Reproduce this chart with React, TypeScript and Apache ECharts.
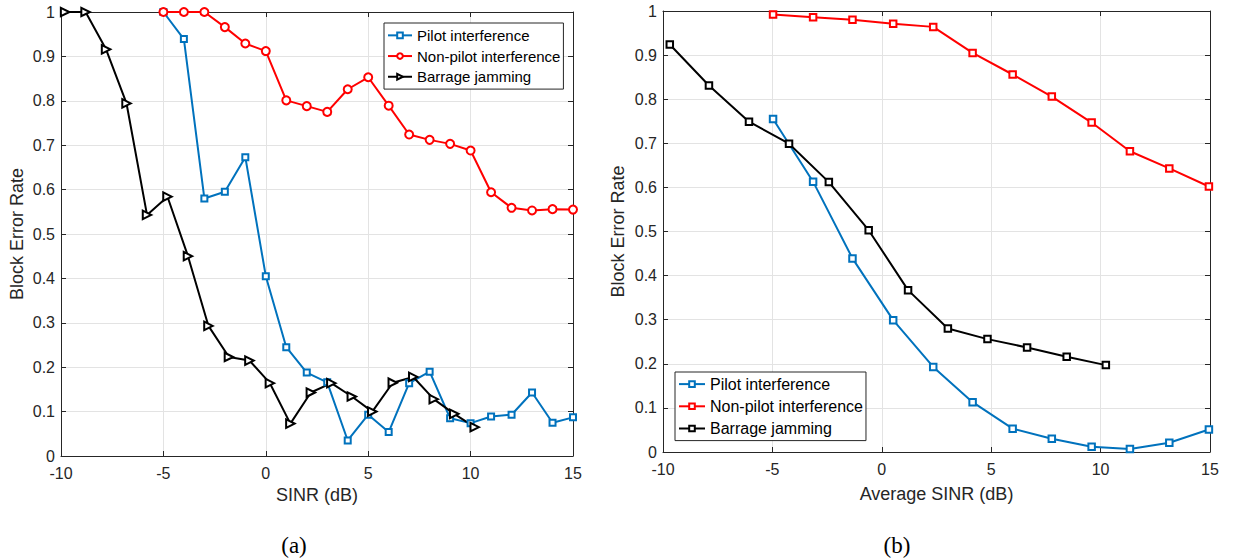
import React, { useEffect, useRef } from "react";
import * as echarts from "echarts";

// ---- Panel (a) data ----
const sinrA = [-5, -4, -3, -2, -1, 0, 1, 2, 3, 4, 5, 6, 7, 8, 9, 10, 11, 12, 13, 14, 15];
const pilotA = [1.0, 0.939, 0.58, 0.595, 0.673, 0.405, 0.245, 0.188, 0.166, 0.035, 0.093, 0.054, 0.164, 0.19, 0.085, 0.074, 0.089, 0.093, 0.143, 0.075, 0.087];
const nonPilotA = [1, 1, 1, 0.966, 0.929, 0.912, 0.801, 0.788, 0.775, 0.826, 0.853, 0.789, 0.724, 0.712, 0.703, 0.688, 0.594, 0.559, 0.553, 0.556, 0.555];
const barrageXA = [-9.8, -8.8, -7.8, -6.8, -5.8, -4.8, -3.8, -2.8, -1.8, -0.8, 0.2, 1.2, 2.2, 3.2, 4.2, 5.2, 6.2, 7.2, 8.2, 9.2, 10.2];
const barrageA = [1, 1, 0.916, 0.794, 0.543, 0.584, 0.45, 0.293, 0.223, 0.215, 0.164, 0.073, 0.143, 0.164, 0.134, 0.1, 0.165, 0.178, 0.128, 0.095, 0.065];

// ---- Panel (b) data ----
const sinrB = [-4.97, -3.14, -1.34, 0.52, 2.35, 4.15, 5.98, 7.77, 9.59, 11.34, 13.14, 14.95];
const pilotB = [0.755, 0.613, 0.439, 0.299, 0.193, 0.113, 0.053, 0.03, 0.012, 0.007, 0.021, 0.051];
const nonPilotB = [0.992, 0.986, 0.98, 0.971, 0.964, 0.905, 0.856, 0.806, 0.747, 0.682, 0.643, 0.602];
const barrageXB = [-9.69, -7.9, -6.07, -4.24, -2.42, -0.6, 1.2, 3.02, 4.83, 6.64, 8.45, 10.24];
const barrageB = [0.924, 0.831, 0.749, 0.699, 0.612, 0.503, 0.367, 0.28, 0.256, 0.237, 0.216, 0.197];

const seriesNames = ["Pilot interference", "Non-pilot interference", "Barrage jamming"];
const xTitleA = "SINR (dB)";
const xTitleB = "Average SINR (dB)";
const yTitle = "Block Error Rate";

const BLUE = "#0072BD";
const RED = "#FF0000";
const BLACK = "#000000";
const AXIS = "#262626";
const FONT = "Liberation Sans, Arial, Helvetica, sans-serif";

const zip = (xs: number[], ys: number[]) => xs.map((x, i) => [x, ys[i]]);

function mainX(grid: number, name: string, gap: number) {
  return {
    type: "value", gridIndex: grid, min: -10, max: 15, interval: 5,
    position: "bottom",
    name, nameLocation: "middle", nameGap: gap,
    nameTextStyle: { fontFamily: FONT, fontSize: 18, color: AXIS },
    axisLine: { show: true, onZero: false, lineStyle: { color: AXIS, width: 1 } },
    axisTick: { show: true, inside: true, length: 5, lineStyle: { color: AXIS } },
    axisLabel: { fontFamily: FONT, fontSize: 16, color: AXIS, margin: 9 },
    splitLine: { show: true, lineStyle: { color: "#e3e3e3", width: 1 } },
  };
}
function boxX(grid: number) {
  return {
    type: "value", gridIndex: grid, min: -10, max: 15, interval: 5, position: "top",
    axisLine: { show: true, onZero: false, lineStyle: { color: AXIS, width: 1 } },
    axisTick: { show: true, inside: true, length: 5, lineStyle: { color: AXIS } },
    axisLabel: { show: false }, splitLine: { show: false },
  };
}
function mainY(grid: number, gap: number) {
  return {
    type: "value", gridIndex: grid, min: 0, max: 1, interval: 0.1, position: "left",
    name: yTitle, nameLocation: "middle", nameGap: gap, nameRotate: 90,
    nameTextStyle: { fontFamily: FONT, fontSize: 18, color: AXIS },
    axisLine: { show: true, onZero: false, lineStyle: { color: AXIS, width: 1 } },
    axisTick: { show: true, inside: true, length: 5, lineStyle: { color: AXIS } },
    axisLabel: { fontFamily: FONT, fontSize: 16, color: AXIS, margin: 6 },
    splitLine: { show: true, lineStyle: { color: "#e3e3e3", width: 1 } },
  };
}
function boxY(grid: number) {
  return {
    type: "value", gridIndex: grid, min: 0, max: 1, interval: 0.1, position: "right",
    axisLine: { show: true, onZero: false, lineStyle: { color: AXIS, width: 1 } },
    axisTick: { show: true, inside: true, length: 5, lineStyle: { color: AXIS } },
    axisLabel: { show: false }, splitLine: { show: false },
  };
}

function lineSeries(name: string, data: number[][], color: string, xi: number, yi: number, symbol: string, size: number, rotate = 0) {
  return {
    type: "line", name, data, xAxisIndex: xi, yAxisIndex: yi,
    symbol, symbolSize: size, symbolRotate: rotate, showAllSymbol: true,
    lineStyle: { color, width: 2 },
    itemStyle: { color, borderColor: color, borderWidth: 1.5 },
    emphasis: { disabled: true },
  };
}

export default function App() {
  const ref = useRef<HTMLDivElement>(null);
  useEffect(() => {
    if (!ref.current) return;
    const chart = echarts.init(ref.current, undefined, { renderer: "svg" });
    const bName = (n: string) => "b:" + n;
    chart.setOption({
      animation: false,
      backgroundColor: "#ffffff",
      grid: [
        { left: 61, top: 12, width: 512, height: 444 },
        { left: 663, top: 11, width: 547, height: 441 },
      ],
      xAxis: [mainX(0, xTitleA, 29), boxX(0), mainX(1, xTitleB, 33), boxX(1)],
      yAxis: [mainY(0, 35), boxY(0), mainY(1, 36), boxY(1)],
      legend: [
        {
          data: seriesNames,
          orient: "vertical", left: 384, top: 23,
          padding: [2, 3, 2, 3], itemGap: 0, itemWidth: 24, itemHeight: 7,
          backgroundColor: "#ffffff", borderColor: AXIS, borderWidth: 1, borderRadius: 0,
          textStyle: { fontFamily: FONT, fontSize: 15, color: "#000", lineHeight: 20.7 },
          selectedMode: false,
        },
        {
          data: seriesNames.map(bName),
          orient: "vertical", left: 675, top: 372,
          padding: [1, 3, 1, 3], itemGap: 0, itemWidth: 26, itemHeight: 7,
          backgroundColor: "#ffffff", borderColor: AXIS, borderWidth: 1, borderRadius: 0,
          textStyle: { fontFamily: FONT, fontSize: 16, color: "#000", lineHeight: 22.2 },
          formatter: (n: string) => n.replace("b:", ""),
          selectedMode: false,
        },
      ],
      series: [
        lineSeries(seriesNames[0], zip(sinrA, pilotA), BLUE, 0, 0, "emptyRect", 6),
        lineSeries(seriesNames[1], zip(sinrA, nonPilotA), RED, 0, 0, "emptyCircle", 8),
        lineSeries(seriesNames[2], zip(barrageXA, barrageA), BLACK, 0, 0, "emptyTriangle", 8.5, -90),
        lineSeries(bName(seriesNames[0]), zip(sinrB, pilotB), BLUE, 2, 2, "emptyRect", 6.5),
        lineSeries(bName(seriesNames[1]), zip(sinrB, nonPilotB), RED, 2, 2, "emptyRect", 6.5),
        lineSeries(bName(seriesNames[2]), zip(barrageXB, barrageB), BLACK, 2, 2, "emptyRect", 6.5),
      ],
      graphic: [
        { type: "text", x: 294, y: 545, style: { text: "(a)", font: "23px 'Liberation Serif', 'Times New Roman', serif", fill: "#000", textAlign: "center", textVerticalAlign: "middle" } },
        { type: "text", x: 897, y: 545, style: { text: "(b)", font: "23px 'Liberation Serif', 'Times New Roman', serif", fill: "#000", textAlign: "center", textVerticalAlign: "middle" } },
      ],
    });
    return () => chart.dispose();
  }, []);
  return <div ref={ref} style={{ position: "absolute", left: 0, top: 0, width: 1236, height: 559 }} />;
}
